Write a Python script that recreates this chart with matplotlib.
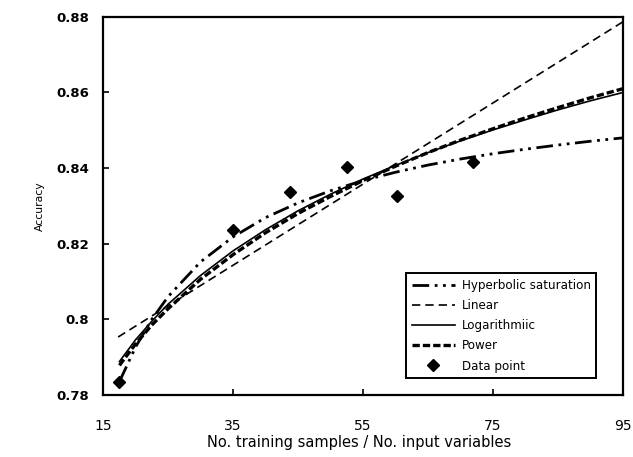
import matplotlib
matplotlib.use("Agg")
import matplotlib.pyplot as plt
from matplotlib.ticker import FuncFormatter

# data points
data_x = [17.5, 35, 43.8, 52.5, 60.2, 72]
data_y = [0.7834, 0.8237, 0.8337, 0.8403, 0.8326, 0.8416]

# fitted curves
curve_x = [17.5, 20, 22.5, 25, 30, 35, 40, 45, 50, 55, 60, 65, 70, 75, 80, 85, 90, 95]
hyper_y = [0.7835, 0.7927, 0.8000, 0.8060, 0.8152, 0.8218, 0.8269, 0.8308, 0.8340,
           0.8367, 0.8389, 0.8408, 0.8424, 0.8438, 0.8450, 0.8461, 0.8471, 0.8480]
log_y = [0.7888, 0.7946, 0.7995, 0.8040, 0.8116, 0.8181, 0.8237, 0.8287, 0.8331,
         0.8371, 0.8407, 0.8441, 0.8472, 0.8501, 0.8528, 0.8554, 0.8578, 0.8600]
power_y = [0.7878, 0.7935, 0.7985, 0.8028, 0.8106, 0.8171, 0.8229, 0.8280, 0.8325,
           0.8367, 0.8405, 0.8441, 0.8474, 0.8504, 0.8533, 0.8560, 0.8586, 0.8610]
linear_x = [17.3, 95]
linear_y = [0.7953, 0.8787]

x_ticks = [15, 35, 55, 75, 95]
y_ticks = [0.78, 0.80, 0.82, 0.84, 0.86, 0.88]

fig = plt.figure(figsize=(6.33, 4.57), dpi=100)
ax = fig.add_axes([0.163, 0.136, 0.821, 0.827])

ax.plot(curve_x, hyper_y, color="black", lw=2.0, linestyle=(0, (6, 2, 1, 2, 1, 2)),
        label="Hyperbolic saturation")
ax.plot(linear_x, linear_y, color="black", lw=1.2, linestyle=(0, (5, 3)), label="Linear")
ax.plot(curve_x, log_y, color="black", lw=1.2, label="Logarithmiic")
ax.plot(curve_x, power_y, color="black", lw=2.4, linestyle=(0, (2.2, 0.9)), label="Power")
ax.plot(data_x, data_y, "D", color="black", ms=6, linestyle="none", label="Data point")

ax.set_xlim(15, 95)
ax.set_ylim(0.78, 0.88)
ax.set_xticks(x_ticks)
ax.set_yticks(y_ticks)
ax.yaxis.set_major_formatter(FuncFormatter(lambda v, p: f"{v:g}"))
ax.tick_params(direction="in", length=4, width=1.2)
ax.tick_params(axis="y", pad=10, labelsize=9.5)
ax.tick_params(axis="x", pad=17.5, labelsize=10)
for lab in ax.get_yticklabels():
    lab.set_fontweight("bold")
for s in ax.spines.values():
    s.set_linewidth(1.6)

ax.set_xlabel("No. training samples / No. input variables", fontsize=10.5)
ax.xaxis.set_label_coords(0.492, -0.105)
ax.set_ylabel("Accuracy", fontsize=7.8)
ax.yaxis.set_label_coords(-0.113, 0.5)

leg = ax.legend(loc="lower right", bbox_to_anchor=(0.96, 0.029), fontsize=8.6,
                handlelength=3.6, fancybox=False, framealpha=1, edgecolor="black",
                borderpad=0.45, labelspacing=0.6, handletextpad=0.6)
leg.get_frame().set_linewidth(1.4)

fig.savefig("out.png", dpi=100)
